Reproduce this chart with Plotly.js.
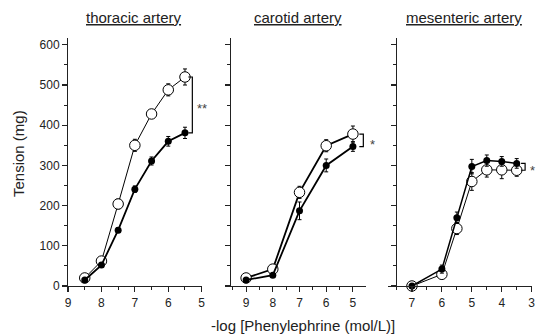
<!DOCTYPE html>
<html><head><meta charset="utf-8">
<script src="https://cdn.plot.ly/plotly-3.0.1.min.js"></script>
<style>html,body{margin:0;padding:0;background:#fff}#chart{width:538px;height:334px}</style>
</head><body><div id="chart"></div>
<script>
// ---- data ----
var panelTitles = ['thoracic artery', 'carotid artery', 'mesenteric artery'];
var thoracicX = [8.5, 8, 7.5, 7, 6.5, 6, 5.5];
var thoracicOpen = [20, 62, 204, 350, 428, 488, 520];
var thoracicOpenErr = [5, 6, 12, 15, 10, 15, 20];
var thoracicFilled = [15, 52, 139, 241, 311, 360, 381];
var thoracicFilledErr = [4, 5, 6, 8, 10, 12, 14];

var carotidX = [9, 8, 7, 6, 5];
var carotidOpen = [20, 42, 233, 349, 378];
var carotidOpenErr = [4, 5, 15, 15, 20];
var carotidFilled = [15, 27, 187, 300, 347];
var carotidFilledErr = [3, 4, 22, 16, 12];

var mesX = [7, 6, 5.5, 5, 4.5, 4, 3.5];
var mesOpen = [0, 29, 143, 260, 289, 289, 288];
var mesOpenErr = [3, 8, 15, 22, 18, 22, 15];
var mesFilled = [0, 42, 170, 297, 312, 310, 305];
var mesFilledErr = [3, 10, 14, 18, 14, 12, 12];

var yTickVals = [0, 100, 200, 300, 400, 500, 600];
var sigLabels = ['**', '*', '*'];

// ---- build ----
var W = 538, H = 334;
var font = 'Liberation Sans, Arial, sans-serif';
var panels = [
  {x: thoracicX, o: thoracicOpen, oe: thoracicOpenErr, f: thoracicFilled, fe: thoracicFilledErr, ow: 1, fw: 1.8},
  {x: carotidX, o: carotidOpen, oe: carotidOpenErr, f: carotidFilled, fe: carotidFilledErr, ow: 1.8, fw: 1.8},
  {x: mesX, o: mesOpen, oe: mesOpenErr, f: mesFilled, fe: mesFilledErr, ow: 1, fw: 1.5}
];
var traces = [];
panels.forEach(function(p, i) {
  var xa = i === 0 ? 'x' : 'x' + (i + 1), ya = i === 0 ? 'y' : 'y' + (i + 1);
  traces.push({x: p.x, y: p.o, xaxis: xa, yaxis: ya, type: 'scatter', mode: 'lines+markers', cliponaxis: false,
    line: {color: '#000', width: p.ow},
    marker: {symbol: 'circle', size: 10.5, color: '#fff', line: {color: '#000', width: 1}},
    error_y: {type: 'data', array: p.oe, visible: true, color: '#000', thickness: 1, width: 2}, showlegend: false});
  traces.push({x: p.x, y: p.f, xaxis: xa, yaxis: ya, type: 'scatter', mode: 'lines+markers', cliponaxis: false,
    line: {color: '#000', width: p.fw},
    marker: {symbol: 'circle', size: 7, color: '#000'},
    error_y: {type: 'data', array: p.fe, visible: true, color: '#000', thickness: 1, width: 2}, showlegend: false});
});

// geometry (pixels)
var xDom = [[62, 201.7], [225, 366], [388, 531.7]];
var xRng = [[9.18, 5.0], [9.79, 4.51], [7.8, 3.0]];
var yPos = [67, 230, 395.7];
var yDom = [(H - 286) / H, (H - 38) / H];
var yRng = [0, 617];

var layout = {width: W, height: H, margin: {l: 0, r: 0, t: 0, b: 0},
  paper_bgcolor: '#fff', plot_bgcolor: 'rgba(0,0,0,0)', font: {family: font, size: 12, color: '#222'},
  shapes: [], annotations: []};

for (var i = 0; i < 3; i++) {
  var sx = i === 0 ? '' : String(i + 1);
  layout['xaxis' + sx] = {domain: [xDom[i][0] / W, xDom[i][1] / W], range: xRng[i], anchor: 'y' + sx,
    showgrid: false, zeroline: false, showline: true, linecolor: '#222', linewidth: 1.3,
    ticks: 'outside', ticklen: 5, tickwidth: 1.1, tickcolor: '#222', dtick: 1, tick0: 0,
    tickfont: {size: 12, family: font, color: '#222'},
    minor: {dtick: 0.5, tick0: 0, ticks: 'outside', ticklen: 3, tickwidth: 1, tickcolor: '#222', showgrid: false}};
  layout['yaxis' + sx] = {domain: yDom, range: yRng, anchor: 'free', position: yPos[i] / W,
    showgrid: false, zeroline: false, showline: true, linecolor: '#222', linewidth: 1.3,
    ticks: 'outside', ticklen: 5, tickwidth: 1.1, tickcolor: '#222', tickvals: yTickVals,
    showticklabels: i === 0, tickfont: {size: 12, family: font, color: '#222'},
    minor: {dtick: 50, tick0: 0, ticks: 'outside', ticklen: 3, tickwidth: 1, tickcolor: '#222', showgrid: false}};
  // panel title
  var center = (yPos[i] + xDom[i][1]) / 2;
  layout.annotations.push({xref: 'paper', yref: 'paper', x: center / W, y: (H - 17) / H,
    text: '<u>' + panelTitles[i] + '</u>', showarrow: false, xanchor: 'center', yanchor: 'middle',
    font: {size: 15, family: font, color: '#222'}});
}

// significance brackets derived from last data points
var brX = [5.28, 4.61, 3.22];
var brArm = [0.12, 0.15, 0.135];
var starX = [195, 368, 528];
panels.forEach(function(p, i) {
  var sx = i === 0 ? '' : String(i + 1);
  var n = p.x.length - 1;
  var top = Math.max(p.o[n], p.f[n]), bot = Math.min(p.o[n], p.f[n]);
  var a = brX[i] + brArm[i];
  layout.shapes.push({type: 'path', xref: 'x' + sx, yref: 'y' + sx,
    path: 'M ' + a + ' ' + top + ' L ' + brX[i] + ' ' + top + ' L ' + brX[i] + ' ' + bot + ' L ' + a + ' ' + bot,
    line: {color: '#000', width: 1.2}});
  layout.annotations.push({xref: 'paper', yref: 'y' + sx, x: starX[i] / W, y: (top + bot) / 2,
    text: sigLabels[i], showarrow: false, xanchor: 'left', yanchor: 'middle', yshift: -4,
    font: {size: 13, family: font, color: '#444'}});
});

// axis titles
layout.annotations.push({xref: 'paper', yref: 'paper', x: 18 / W, y: (H - 154) / H, text: 'Tension (mg)',
  textangle: -90, showarrow: false, xanchor: 'center', yanchor: 'middle', font: {size: 15, family: font, color: '#222'}});
layout.annotations.push({xref: 'paper', yref: 'paper', x: 303 / W, y: (H - 325) / H, text: '-log [Phenylephrine (mol/L)]',
  showarrow: false, xanchor: 'center', yanchor: 'middle', font: {size: 15, family: font, color: '#222'}});

Plotly.newPlot('chart', traces, layout, {staticPlot: true, displayModeBar: false});
</script></body></html>
